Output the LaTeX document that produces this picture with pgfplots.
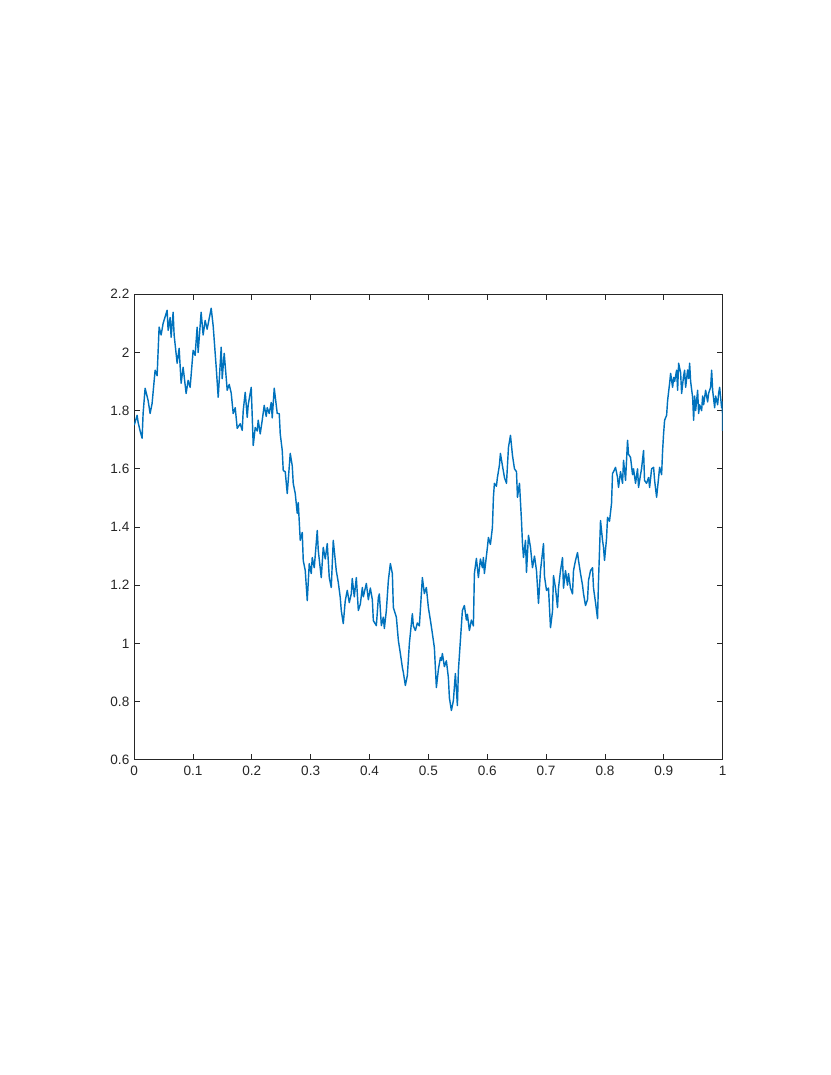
\documentclass[border=0pt]{standalone}
\usepackage{fontspec}
\setmainfont{Liberation Sans}
\usepackage{pgfplots}
\pgfplotsset{compat=1.18}
\definecolor{mlblue}{RGB}{0,114,189}
\definecolor{axgray}{RGB}{38,38,38}

\begin{document}
\begin{tikzpicture}
% letter page, the axis sits where MATLAB put it
\path[use as bounding box] (0,0) rectangle (612pt,792pt);
\begin{axis}[
  at={(98.8pt,232.3pt)}, anchor=south west,
  scale only axis,
  width=433.6pt, height=342.9pt,
  xmin=0, xmax=1, ymin=0.6, ymax=2.2,
  xtick={0,0.1,...,1}, ytick={0.6,0.8,...,2.2},
  tick align=inside,
  major tick length=4pt,
  axis line style={axgray, line width=0.6pt},
  every tick/.style={axgray, line width=0.6pt},
  tick label style={font=\fontsize{10}{12}\selectfont, text=axgray},
  /pgf/number format/assume math mode=true,
  xticklabel style={yshift=-1pt},
]
\addplot[color=mlblue, line width=1.05pt, line join=round] coordinates {
(0,1.75) (0.0017,1.76) (0.0051,1.784) (0.0068,1.76) (0.0102,1.73) (0.0136,1.705)
(0.0153,1.79) (0.0187,1.877) (0.0238,1.835) (0.0272,1.79) (0.0306,1.825)
(0.0357,1.939) (0.0391,1.92) (0.0425,2.087) (0.0459,2.06) (0.0493,2.10)
(0.0561,2.145) (0.0578,2.076) (0.0612,2.12) (0.0629,2.052) (0.0663,2.138)
(0.0680,2.06) (0.0731,1.963) (0.0765,2.014) (0.0799,1.894) (0.0833,1.949)
(0.0884,1.859) (0.0918,1.904) (0.0952,1.88) (0.1003,2.007) (0.1037,1.99)
(0.1071,2.087) (0.1088,2.0) (0.1139,2.138) (0.1173,2.06) (0.1207,2.11)
(0.1241,2.08) (0.1310,2.152) (0.1344,2.09) (0.1395,1.949) (0.1429,1.846)
(0.1480,2.018) (0.1497,1.91) (0.1531,1.997) (0.1582,1.87) (0.1616,1.89)
(0.1650,1.86) (0.1684,1.79) (0.1718,1.81) (0.1752,1.739) (0.1803,1.755)
(0.1837,1.732) (0.1854,1.80) (0.1888,1.863) (0.1922,1.777) (0.1939,1.82)
(0.1990,1.88) (0.2024,1.68) (0.2058,1.742) (0.2092,1.73) (0.2109,1.767)
(0.2143,1.72) (0.2177,1.767) (0.2211,1.818) (0.2245,1.78) (0.2262,1.81)
(0.2296,1.79) (0.2330,1.828) (0.2347,1.775) (0.2381,1.877) (0.2432,1.79)
(0.2466,1.79) (0.2483,1.72) (0.2517,1.663) (0.2534,1.594) (0.2568,1.59)
(0.2602,1.515) (0.2653,1.653) (0.2687,1.61) (0.2704,1.55) (0.2738,1.515)
(0.2772,1.447) (0.2789,1.484) (0.2823,1.354) (0.2857,1.381) (0.2874,1.285)
(0.2908,1.25) (0.2942,1.147) (0.2976,1.274) (0.3010,1.24) (0.3027,1.295)
(0.3061,1.26) (0.3112,1.388) (0.3129,1.32) (0.3180,1.226) (0.3214,1.33)
(0.3248,1.29) (0.3282,1.343) (0.3316,1.226) (0.3350,1.192) (0.3384,1.354)
(0.3435,1.25) (0.3469,1.21) (0.3503,1.157)
(0.3520,1.113) (0.3554,1.068) (0.3588,1.147) (0.3622,1.182) (0.3656,1.14)
(0.3690,1.17) (0.3707,1.223) (0.3741,1.16) (0.3776,1.226) (0.3810,1.113)
(0.3844,1.135) (0.3878,1.192) (0.3895,1.16) (0.3946,1.206) (0.3980,1.15)
(0.4014,1.19) (0.4048,1.15) (0.4065,1.078) (0.4116,1.061) (0.4150,1.157)
(0.4167,1.17) (0.4201,1.061) (0.4235,1.09) (0.4252,1.051) (0.4286,1.113)
(0.4320,1.216) (0.4354,1.274) (0.4388,1.24) (0.4405,1.123) (0.4456,1.09)
(0.4490,1.01) (0.4524,0.965) (0.4558,0.917) (0.4575,0.90) (0.4609,0.855)
(0.4643,0.89) (0.4677,0.999) (0.4728,1.102) (0.4745,1.06) (0.4779,1.044)
(0.4813,1.07) (0.4847,1.06) (0.4898,1.226) (0.4932,1.171) (0.4966,1.192)
(0.5000,1.123) (0.5034,1.08) (0.5068,1.034) (0.5102,0.985) (0.5136,0.848)
(0.5170,0.91) (0.5204,0.951)
(0.5221,0.941) (0.5238,0.965) (0.5272,0.92) (0.5306,0.94) (0.5340,0.882)
(0.5357,0.813) (0.5391,0.769) (0.5425,0.803) (0.5459,0.896) (0.5493,0.786)
(0.5510,0.906) (0.5544,1.01) (0.5578,1.113) (0.5612,1.13) (0.5646,1.08)
(0.5663,1.10) (0.5697,1.044) (0.5731,1.08) (0.5765,1.06) (0.5782,1.24)
(0.5816,1.292) (0.5850,1.226) (0.5884,1.29) (0.5918,1.26) (0.5935,1.295)
(0.5952,1.24) (0.6003,1.33) (0.6020,1.364) (0.6054,1.34) (0.6088,1.398)
(0.6105,1.502) (0.6122,1.55) (0.6156,1.54) (0.6173,1.57) (0.6207,1.612)
(0.6224,1.653) (0.6259,1.61) (0.6293,1.57) (0.6327,1.55) (0.6361,1.674)
(0.6395,1.715) (0.6429,1.646) (0.6463,1.60) (0.6497,1.59) (0.6514,1.502)
(0.6548,1.55) (0.6582,1.422) (0.6599,1.343) (0.6616,1.295) (0.6650,1.354)
(0.6667,1.244) (0.6701,1.371) (0.6735,1.33) (0.6769,1.26) (0.6803,1.30)
(0.6837,1.25) (0.6871,1.137) (0.6905,1.25)
(0.6956,1.343) (0.6973,1.23) (0.7007,1.182) (0.7041,1.19) (0.7075,1.054)
(0.7109,1.11) (0.7126,1.233) (0.7160,1.19) (0.7194,1.123) (0.7211,1.19)
(0.7245,1.25) (0.7279,1.295) (0.7296,1.19) (0.7330,1.25) (0.7364,1.20)
(0.7381,1.24) (0.7415,1.19) (0.7449,1.17) (0.7466,1.25) (0.7500,1.285)
(0.7534,1.312) (0.7551,1.285) (0.7585,1.24) (0.7619,1.20) (0.7636,1.171)
(0.7670,1.13) (0.7704,1.15) (0.7721,1.216) (0.7755,1.25) (0.7789,1.26)
(0.7806,1.19) (0.7840,1.14) (0.7874,1.085) (0.7891,1.216) (0.7925,1.422)
(0.7959,1.354) (0.7976,1.33) (0.7993,1.285) (0.8027,1.36) (0.8044,1.433)
(0.8078,1.42) (0.8112,1.481) (0.8129,1.584) (0.8146,1.59) (0.8180,1.605)
(0.8214,1.57) (0.8231,1.536) (0.8265,1.59) (0.8299,1.55) (0.8316,1.629)
(0.8350,1.56) (0.8384,1.698) (0.8401,1.65) (0.8435,1.639) (0.8469,1.58)
(0.8486,1.60) (0.8520,1.55) (0.8554,1.60) (0.8571,1.536) (0.8605,1.58)
(0.8622,1.60) (0.8656,1.663) (0.8673,1.56) (0.8707,1.55) (0.8741,1.57)
(0.8759,1.536) (0.8793,1.60) (0.8827,1.605) (0.8844,1.56) (0.8878,1.502)
(0.8912,1.57) (0.8929,1.605) (0.8963,1.58) (0.8980,1.663) (0.8997,1.722)
(0.9014,1.767) (0.9048,1.784) (0.9065,1.835) (0.9099,1.894) (0.9116,1.928)
(0.9150,1.88) (0.9167,1.914) (0.9184,1.90) (0.9218,1.939) (0.9235,1.87)
(0.9252,1.963) (0.9286,1.93) (0.9303,1.859) (0.9337,1.92) (0.9354,1.939)
(0.9371,1.88) (0.9405,1.94) (0.9422,1.91) (0.9439,1.963) (0.9456,1.90)
(0.9490,1.846) (0.9507,1.767) (0.9524,1.85) (0.9541,1.80) (0.9575,1.87)
(0.9592,1.79) (0.9609,1.82) (0.9643,1.80) (0.9660,1.85) (0.9677,1.82)
(0.9711,1.87) (0.9745,1.83) (0.9762,1.86) (0.9796,1.88) (0.9813,1.939)
(0.9830,1.87) (0.9864,1.81) (0.9881,1.85) (0.9915,1.82) (0.9932,1.86)
(0.9949,1.88) (0.9983,1.81) (0.9995,1.83) (1.0,1.73)
};
\end{axis}
\end{tikzpicture}
\end{document}
